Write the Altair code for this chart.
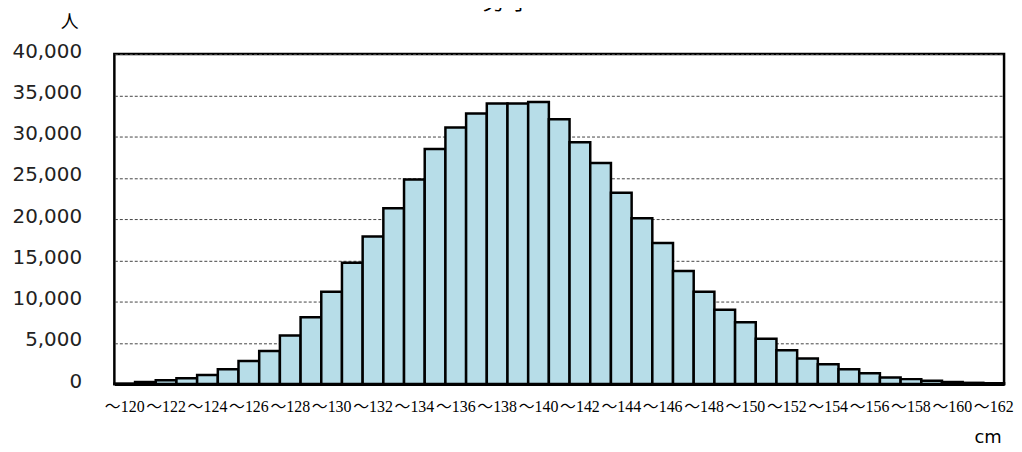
import altair as alt
import pandas as pd

heights = list(range(120, 163))
labels = ["～" + str(h) for h in heights]
counts = [50, 250, 450, 700, 1100, 1800, 2800, 4000, 5900, 8100,
          11200, 14700, 17900, 21300, 24800, 28500, 31100, 32800, 34000, 34000,
          34200, 32100, 29300, 26800, 23200, 20100, 17100, 13700, 11200, 9000,
          7500, 5500, 4100, 3100, 2400, 1800, 1300, 800, 600, 400,
          250, 150, 100]
tick_labels = labels[::2]
y_ticks = list(range(0, 40001, 5000))

df = pd.DataFrame({"label": labels, "count": counts})

x_enc = alt.X("label:N", sort=labels,
              scale=alt.Scale(paddingInner=0, paddingOuter=0),
              axis=alt.Axis(values=tick_labels, title=None, labelAngle=0,
                            labelFont="'Liberation Serif', 'Noto Sans CJK JP'",
                            labelFontSize=16,
                            labelColor="#000000", ticks=False, tickSize=0,
                            labelPadding=15, domainColor="#000000",
                            domainWidth=3))
y_enc = alt.Y("count:Q",
              scale=alt.Scale(domain=[0, 40000], nice=False),
              axis=alt.Axis(values=y_ticks, format=",.0f", title=None,
                            labelFont="DejaVu Sans", labelFontSize=20,
                            labelColor="#222222", ticks=False, tickSize=0,
                            labelPadding=33, domain=False, labelOffset=-3,
                            grid=True, gridColor="#444444", gridDash=[3, 2],
                            gridWidth=1))

bars = alt.Chart(df).mark_bar(fill="#b7dde8", stroke="#000000",
                              strokeWidth=2.5).encode(x=x_enc, y=y_enc)

title_df = pd.DataFrame({"t": ["男 子"]})
title = alt.Chart(title_df).mark_text(font="Noto Sans CJK JP", fontSize=22,
                                      baseline="bottom", align="center",
                                      color="#000000").encode(
    text="t:N", x=alt.value(395), y=alt.value(-40))

unit_df = pd.DataFrame({"t": ["人"]})
unit = alt.Chart(unit_df).mark_text(font="Noto Sans CJK JP", fontSize=18,
                                    baseline="middle", align="center",
                                    color="#000000").encode(
    text="t:N", x=alt.value(-45), y=alt.value(-31))

cm_df = pd.DataFrame({"t": ["cm"]})
cm = alt.Chart(cm_df).mark_text(font="DejaVu Sans", fontSize=18,
                                baseline="middle", align="center",
                                color="#000000").encode(
    text="t:N", x=alt.value(879), y=alt.value(386))

chart = alt.layer(bars, title, unit, cm).properties(
    width=895, height=332,
    autosize=alt.AutoSizeParams(type="none"),
    padding={"left": 107, "top": 45, "right": 10, "bottom": 64},
).configure(background="#ffffff").configure_view(
    stroke="#000000", strokeWidth=2.5)

chart.save("out.html", embed_options={"renderer": "svg", "actions": False})
